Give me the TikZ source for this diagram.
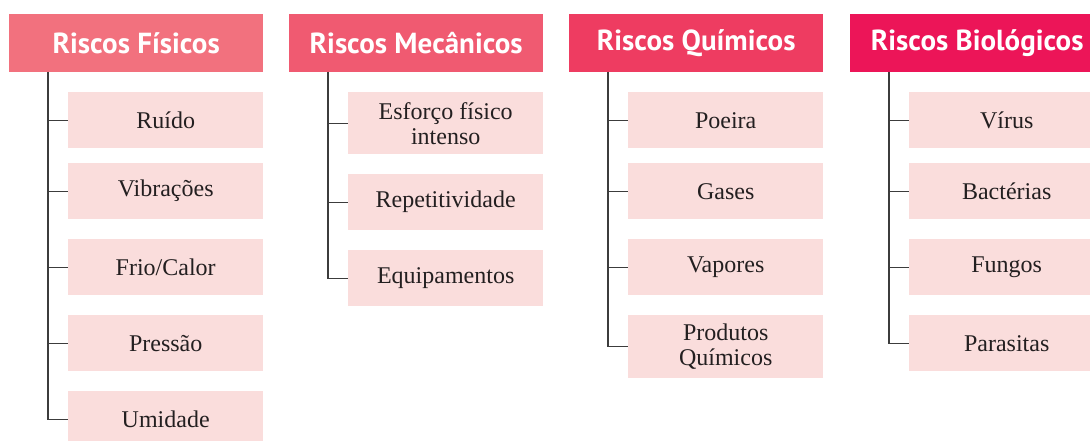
\documentclass[tikz,border=0pt]{standalone}
\usepackage{fontspec}
\setmainfont{Liberation Serif}
\newfontfamily\headfont{PT Sans}
\definecolor{fisico}{HTML}{F2717E}
\definecolor{mecanico}{HTML}{F05A71}
\definecolor{quimico}{HTML}{EE3C61}
\definecolor{biologico}{HTML}{EC1558}
\definecolor{itemrosa}{HTML}{FADDDC}
\definecolor{texto}{HTML}{231F20}
\definecolor{traco}{HTML}{3C3C3C}

\begin{document}
\begin{tikzpicture}[x=1pt,y=-1pt,
    header/.style={fill=#1,text=white,anchor=north west,inner sep=0pt,
      minimum width=254pt,minimum height=58pt,
      font=\headfont\bfseries\fontsize{29}{29}\selectfont},
    risco/.style={fill=itemrosa,text=texto,anchor=north west,inner sep=0pt,
      minimum width=195pt,minimum height=56pt,align=center,
      font=\fontsize{24}{24}\selectfont},
    ramo/.style={draw=traco,line width=1.4pt}]
  \clip (0,0) rectangle (1090,440);
  % cabecalhos
  \node (fisicos)    at (9,14)   [header=fisico]    {Riscos Físicos};
  \node (mecanicos)  at (289,14) [header=mecanico]  {Riscos Mecânicos};
  \node (quimicos)   at (569,14) [header=quimico]   {Riscos Químicos};
  \node (biologicos) at (850,14) [header=biologico] {Riscos Biológicos};
  % fisicos
  \node (ruido)     at (68,92)  [risco] {Ruído};
  \node (vibracoes) at (68,163) [risco] {Vibrações};
  \node (friocalor) at (68,239) [risco] {Frio/Calor};
  \node (pressao)   at (68,315) [risco] {Pressão};
  \node (umidade)   at (68,391) [risco] {Umidade};
  % mecanicos
  \node (esforco)   at (348,92)  [risco,minimum height=62pt] {Esforço físico\\[1pt]intenso};
  \node (repet)     at (348,174) [risco] {Repetitividade};
  \node (equip)     at (348,250) [risco] {Equipamentos};
  % quimicos
  \node (poeira)    at (628,92)  [risco] {Poeira};
  \node (gases)     at (628,163) [risco] {Gases};
  \node (vapores)   at (628,239) [risco] {Vapores};
  \node (produtos)  at (628,315) [risco,minimum height=63pt] {Produtos\\[1pt]Químicos};
  % biologicos
  \node (virus)     at (909,92)  [risco] {Vírus};
  \node (bacterias) at (909,163) [risco] {Bactérias};
  \node (fungos)    at (909,239) [risco] {Fungos};
  \node (parasitas) at (909,315) [risco] {Parasitas};
  % ramos
  \foreach \n in {ruido,vibracoes,friocalor,pressao,umidade}
    \draw[ramo] ([xshift=39pt]fisicos.south west) |- (\n.west);
  \foreach \n in {esforco,repet,equip}
    \draw[ramo] ([xshift=39pt]mecanicos.south west) |- (\n.west);
  \foreach \n in {poeira,gases,vapores,produtos}
    \draw[ramo] ([xshift=39pt]quimicos.south west) |- (\n.west);
  \foreach \n in {virus,bacterias,fungos,parasitas}
    \draw[ramo] ([xshift=39pt]biologicos.south west) |- (\n.west);
\end{tikzpicture}
\end{document}
